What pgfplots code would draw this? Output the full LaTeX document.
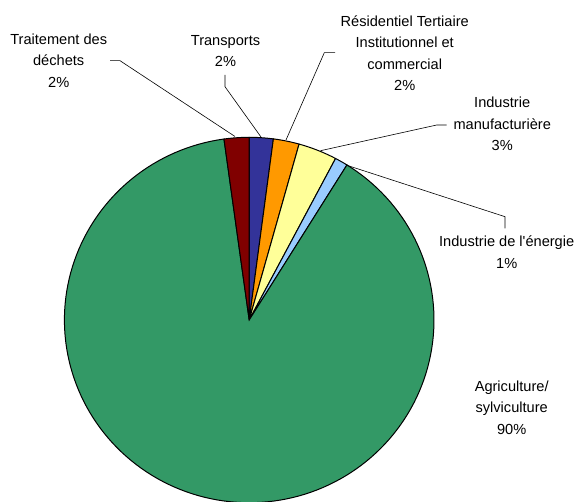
\documentclass[border=0pt]{standalone}
\usepackage{pgfplots}
\pgfplotsset{compat=1.18}
\usepackage{pgfplotstable}
\usepackage{fontspec}
\setmainfont{Liberation Sans}

\definecolor{sec0}{RGB}{51,51,153}
\definecolor{sec1}{RGB}{255,153,0}
\definecolor{sec2}{RGB}{255,255,153}
\definecolor{sec3}{RGB}{153,204,255}
\definecolor{sec4}{RGB}{51,153,102}
\definecolor{sec5}{RGB}{128,0,0}

% shares in percent, clockwise from 12 o'clock
\pgfplotstableread{
sector share
Transports 2.09
Residentiel 2.26
Manufacturiere 3.39
Energie 1.13
Agriculture 88.95
Dechets 2.18
}\sharetable

\begin{document}
\begin{tikzpicture}
\begin{axis}[
  at={(0,0)}, anchor=south west,
  width=576bp, height=502bp, scale only axis,
  hide axis,
  xmin=-1.3485, xmax=1.7684,
  ymin=-0.9962, ymax=1.7515,
]
  \def\startangle{90}
  \pgfplotsforeachungrouped \i in {0,...,5}{
    \pgfplotstablegetelem{\i}{share}\of\sharetable
    \pgfmathsetmacro\stopangle{\startangle-3.6*\pgfplotsretval}
    \pgfmathsetmacro\nsamples{int(3+abs(\startangle-\stopangle)/2)}
    \edef\piewedge{\noexpand\addplot[draw=black, line width=1bp, fill=sec\i,
      data cs=polar, domain=\stopangle:\startangle, samples=\nsamples]
      ({x},{1}) -- (axis cs:0,0) -- cycle;}
    \piewedge
    \let\startangle\stopangle
  }
\end{axis}
\pgfresetboundingbox
\path (0,0) rectangle (576bp,502bp);

% labels and leader lines, in picture pixels from the top left
\begin{scope}[x=1bp, y=-1bp, shift={(0,502bp)},
  font=\fontsize{14.6bp}{21.5bp}\selectfont]
  \node[align=center, inner sep=0] at (58.7,60.5) {Traitement des\\déchets\\2\%};
  \node[align=center, inner sep=0] at (225.5,51) {Transports\\2\%};
  \node[align=center, inner sep=0] at (404.7,53) {Résidentiel Tertiaire\\Institutionnel et\\commercial\\2\%};
  \node[align=center, inner sep=0] at (502.2,124) {Industrie\\manufacturière\\3\%};
  \node[align=center, inner sep=0] at (506.7,252.3) {Industrie de l\textquotesingle énergie\\1\%};
  \node[align=center, inner sep=0] at (511.7,407.5) {Agriculture/\\sylviculture\\90\%};
  \begin{scope}[line width=0.6bp]
    \draw (110,60.7) -- (120,60.7) -- (235,136.5);
    \draw (225,75) -- (225,86.7) -- (261,137);
    \draw (335,52.7) -- (324.3,52.7) -- (286,140);
    \draw (446.7,125) -- (436.7,125) -- (320.5,150.7);
    \draw (505,228.3) -- (505,216.7) -- (346,165);
  \end{scope}
\end{scope}
\end{tikzpicture}
\end{document}
